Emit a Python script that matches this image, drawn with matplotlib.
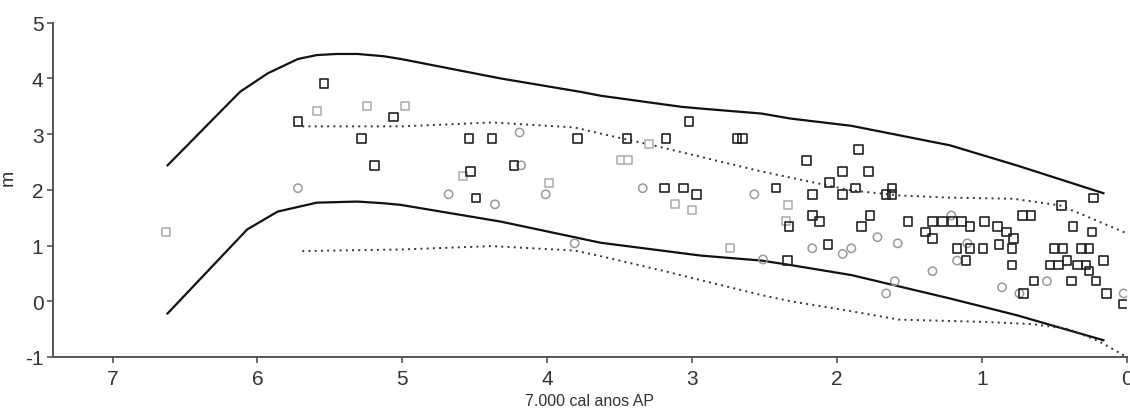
import matplotlib
matplotlib.use("Agg")
import matplotlib.pyplot as plt

plt.rcParams['font.family'] = ['Liberation Sans', 'DejaVu Sans']

# Envelope curves (x in ka cal BP, y in m)
upper_solid_x = [6.62, 6.12, 5.93, 5.72, 5.59, 5.45, 5.31, 5.13, 5.01, 4.32, 3.77, 3.63, 3.07, 2.94, 2.52, 2.32, 1.90, 1.22, 0.76, 0.16]
upper_solid_y = [2.44, 3.76, 4.09, 4.35, 4.42, 4.44, 4.44, 4.40, 4.35, 4.00, 3.76, 3.69, 3.49, 3.46, 3.37, 3.28, 3.15, 2.80, 2.44, 1.94]

lower_solid_x = [6.62, 6.07, 5.86, 5.59, 5.31, 5.13, 5.01, 4.32, 3.63, 2.94, 2.52, 2.32, 1.90, 1.22, 0.76, 0.16]
lower_solid_y = [-0.22, 1.29, 1.61, 1.77, 1.79, 1.76, 1.73, 1.43, 1.05, 0.82, 0.73, 0.65, 0.47, 0.05, -0.25, -0.70]

upper_dot_x = [5.69, 5.00, 4.38, 3.81, 3.63, 3.27, 2.52, 2.32, 1.90, 1.57, 1.22, 0.78, 0.46, 0.30, 0.00]
upper_dot_y = [3.14, 3.14, 3.21, 3.12, 3.01, 2.80, 2.33, 2.22, 1.99, 1.90, 1.86, 1.84, 1.72, 1.55, 1.22]

lower_dot_x = [5.69, 5.00, 4.38, 3.81, 3.63, 3.19, 2.52, 2.32, 1.90, 1.57, 1.00, 0.65, 0.40, 0.19, 0.00]
lower_dot_y = [0.90, 0.93, 0.99, 0.91, 0.81, 0.54, 0.11, 0.00, -0.18, -0.33, -0.37, -0.41, -0.50, -0.72, -1.00]

# Index points
dark_sq_x = [5.54, 5.06, 5.72, 5.28, 5.19, 4.54, 4.38, 3.79, 4.23, 4.53, 4.49, 3.02, 3.45, 3.18, 2.69, 2.65,
             3.19, 3.06, 2.97, 2.42, 2.34, 2.33, 1.85, 2.21, 1.96, 1.78, 2.05, 1.87, 1.62, 2.17, 1.96, 1.66,
             1.62, 2.17, 2.12, 1.77, 1.83, 2.06, 1.51, 1.34, 1.27, 1.20, 1.14, 1.39, 1.34, 1.08, 0.98, 0.89,
             0.83, 0.78, 0.72, 0.66, 1.17, 1.08, 0.99, 1.11, 0.88, 0.79, 0.79, 0.23, 0.45, 0.37, 0.24, 0.50,
             0.44, 0.31, 0.26, 0.53, 0.47, 0.41, 0.34, 0.28, 0.26, 0.16, 0.64, 0.38, 0.21, 0.71, 0.14, 0.02]
dark_sq_y = [3.91, 3.31, 3.23, 2.92, 2.44, 2.92, 2.92, 2.92, 2.44, 2.33, 1.85, 3.23, 2.92, 2.92, 2.92, 2.92,
             2.03, 2.03, 1.92, 2.03, 0.73, 1.34, 2.72, 2.53, 2.33, 2.33, 2.13, 2.03, 2.03, 1.92, 1.92, 1.92,
             1.92, 1.54, 1.43, 1.54, 1.34, 1.02, 1.43, 1.43, 1.43, 1.43, 1.43, 1.24, 1.13, 1.34, 1.43, 1.34,
             1.24, 1.13, 1.54, 1.54, 0.95, 0.95, 0.95, 0.73, 1.02, 0.95, 0.65, 1.85, 1.72, 1.34, 1.24, 0.95,
             0.95, 0.95, 0.95, 0.65, 0.65, 0.73, 0.65, 0.65, 0.54, 0.73, 0.36, 0.36, 0.36, 0.14, 0.14, -0.05]

light_sq_x = [5.59, 5.24, 6.63, 4.98, 4.58, 3.99, 3.30, 3.49, 3.44, 3.12, 3.00, 2.74, 2.34, 2.35]
light_sq_y = [3.42, 3.51, 1.24, 3.51, 2.24, 2.13, 2.83, 2.53, 2.53, 1.74, 1.63, 0.95, 1.72, 1.44]

circle_x = [5.72, 4.19, 4.18, 4.68, 4.36, 4.01, 3.81, 3.34, 2.57, 2.51, 2.17, 1.96, 1.90, 1.72, 1.58,
            1.66, 1.60, 1.21, 1.10, 1.17, 1.34, 0.86, 0.74, 0.55, 0.02]
circle_y = [2.03, 3.03, 2.44, 1.92, 1.74, 1.92, 1.04, 2.03, 1.92, 0.75, 0.95, 0.85, 0.95, 1.15, 1.04,
            0.14, 0.36, 1.54, 1.04, 0.73, 0.54, 0.25, 0.14, 0.36, 0.14]

x_ticks = [7, 6, 5, 4, 3, 2, 1, 0]
y_ticks = [-1, 0, 1, 2, 3, 4, 5]
x_label = "7.000 cal anos AP"
y_label = "m"

fig = plt.figure(figsize=(11.3, 4.1), dpi=100)
ax = fig.add_axes([0.047, 0.127, 0.950, 0.815])

ax.plot(upper_solid_x, upper_solid_y, color='#111111', lw=1.6, solid_joinstyle='round')
ax.plot(lower_solid_x, lower_solid_y, color='#111111', lw=1.6, solid_joinstyle='round')
ax.plot(upper_dot_x, upper_dot_y, color='#333333', lw=1.4, linestyle=(0, (1, 2.2)))
ax.plot(lower_dot_x, lower_dot_y, color='#333333', lw=1.4, linestyle=(0, (1, 2.2)))

ax.scatter(light_sq_x, light_sq_y, marker='s', s=38, facecolors='white', edgecolors='#aaaaaa', linewidths=1.1, zorder=3)
ax.scatter(circle_x, circle_y, marker='o', s=36, facecolors='none', edgecolors='#999999', linewidths=1.1, zorder=3)
ax.scatter(dark_sq_x, dark_sq_y, marker='s', s=38, facecolors='none', edgecolors='#222222', linewidths=1.2, zorder=4)

ax.set_xlim(7.41, 0)
ax.set_ylim(-1, 5)
ax.set_xticks(x_ticks)
ax.set_yticks(y_ticks)
ax.set_xticklabels([str(t) for t in x_ticks])
ax.set_yticklabels([str(t) for t in y_ticks])
for s in ['top', 'right']:
    ax.spines[s].set_visible(False)
for s in ['left', 'bottom']:
    ax.spines[s].set_color('#555555')
    ax.spines[s].set_linewidth(1.4)
ax.tick_params(axis='both', colors='#555555', labelcolor='#333333', labelsize=15, length=4, width=1.2, direction='out')
ax.tick_params(axis='x', pad=5)
ax.tick_params(axis='y', pad=3)
ax.set_xlabel(x_label, fontsize=11.5, color='#333333', labelpad=3)
ax.set_ylabel(y_label, fontsize=14, color='#333333')
ax.yaxis.set_label_coords(-0.034, 0.54)

fig.savefig('out.png', dpi=100, facecolor='white')
